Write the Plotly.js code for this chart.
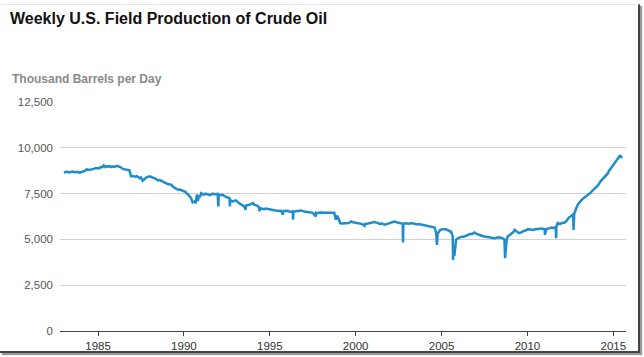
<!DOCTYPE html>
<html>
<head>
<meta charset="utf-8">
<script src="https://cdn.plot.ly/plotly-3.0.1.min.js"></script>
<style>
  html, body { margin: 0; padding: 0; background: #fff; }
  #wrap { position: relative; width: 644px; height: 357px; overflow: hidden; }
  #chart { position: absolute; left: 0; top: 0; width: 644px; height: 357px; }
  #frame { position: absolute; left: 0; top: 4px; width: 638px; height: 346px;
           border-top: 1px solid #e6e6e6; border-right: 2px solid #444; border-bottom: 2px solid #444;
           box-shadow: 2px 2px 1px #999; pointer-events: none; }
</style>
</head>
<body>
<div id="wrap"><div id="chart"></div><div id="frame"></div></div>
<script>
const chartTitle = "Weekly U.S. Field Production of Crude Oil";
const unitLabel = "Thousand Barrels per Day";

const weeks = [
  "1983-01-07","1983-03-04","1983-05-06","1983-07-01","1983-09-02","1983-10-07","1983-12-02","1984-01-06","1984-03-02",
  "1984-04-06","1984-05-04","1984-06-29","1984-08-03","1984-09-28","1984-11-02","1985-01-04","1985-02-01","1985-03-01",
  "1985-04-05","1985-05-03","1985-06-07","1985-07-05","1985-08-02","1985-09-06","1985-10-04","1985-11-01","1985-12-06",
  "1986-02-07","1986-03-07","1986-04-04","1986-05-02","1986-06-06","1986-07-04","1986-08-01","1986-09-05","1986-10-31",
  "1986-12-05","1987-01-09","1987-03-06","1987-04-03","1987-06-05","1987-07-03","1987-08-07","1987-09-04","1987-10-02",
  "1987-11-06","1988-01-08","1988-02-05","1988-04-01","1988-05-06","1988-07-01","1988-08-05","1988-10-07","1988-12-02",
  "1989-02-03","1989-04-07","1989-05-05","1989-07-07","1989-09-01","1989-10-06","1989-12-01","1990-02-02","1990-03-02",
  "1990-04-06","1990-06-01","1990-07-06","1990-08-10","1990-09-07","1990-10-05","1990-10-26","1990-11-16","1990-12-07",
  "1991-01-04","1991-02-01","1991-03-01","1991-04-05","1991-06-07","1991-07-05","1991-09-06","1991-10-04","1991-12-20",
  "1992-01-03","1992-01-10","1992-02-07","1992-04-03","1992-05-01","1992-07-03","1992-08-28","1992-09-04","1992-09-11",
  "1992-10-02","1992-11-06","1993-01-08","1993-02-05","1993-04-02","1993-05-07","1993-07-02","1993-08-06","1993-08-13",
  "1993-10-01","1993-11-05","1994-01-07","1994-02-04","1994-04-01","1994-05-20","1994-05-27","1994-06-03","1994-07-01",
  "1994-09-02","1994-10-07","1995-01-06","1995-02-03","1995-04-07","1995-05-05","1995-08-04","1995-09-01","1995-10-06",
  "1995-10-13","1995-12-01","1996-02-02","1996-03-01","1996-05-03","1996-05-10","1996-05-17","1996-07-05","1996-09-06",
  "1996-11-01","1997-01-03","1997-03-07","1997-04-04","1997-06-06","1997-07-04","1997-09-05","1997-09-12","1997-10-03",
  "1997-11-07","1998-01-02","1998-03-06","1998-06-05","1998-08-07","1998-09-04","1998-09-25","1998-10-02","1998-11-06",
  "1998-12-04","1999-01-08","1999-02-05","1999-03-05","1999-05-07","1999-06-04","1999-08-06","1999-10-01","1999-11-05",
  "2000-01-07","2000-03-03","2000-05-05","2000-07-07","2000-07-14","2000-09-01","2000-11-03","2001-02-02","2001-04-06",
  "2001-06-01","2001-07-06","2001-09-07","2001-11-02","2002-01-04","2002-02-01","2002-04-05","2002-06-07","2002-08-02",
  "2002-09-27","2002-10-04","2002-10-11","2002-12-06","2003-02-07","2003-04-04","2003-06-06","2003-08-01","2003-09-05",
  "2003-11-07","2004-01-02","2004-03-05","2004-05-07","2004-06-04","2004-08-06","2004-09-10","2004-09-24","2004-10-08",
  "2004-11-05","2004-12-03","2005-02-04","2005-04-01","2005-06-03","2005-07-01","2005-07-15","2005-08-26","2005-09-02",
  "2005-09-16","2005-09-30","2005-10-21","2005-11-04","2005-12-02","2006-01-06","2006-03-03","2006-05-05","2006-07-07",
  "2006-09-01","2006-10-06","2006-12-01","2007-01-05","2007-03-02","2007-05-04","2007-07-06","2007-09-07","2007-11-02",
  "2008-01-04","2008-02-01","2008-04-04","2008-05-02","2008-07-04","2008-08-29","2008-09-12","2008-09-26","2008-10-17",
  "2008-11-07","2008-12-05","2009-01-02","2009-03-06","2009-04-03","2009-06-05","2009-07-03","2009-09-04","2009-10-02",
  "2009-12-04","2010-01-08","2010-03-05","2010-05-07","2010-07-02","2010-08-06","2010-10-01","2010-12-31","2011-01-07",
  "2011-02-04","2011-04-01","2011-06-03","2011-07-08","2011-08-26","2011-09-02","2011-09-09","2011-10-07","2011-12-02",
  "2012-01-06","2012-03-02","2012-04-06","2012-06-01","2012-07-06","2012-08-24","2012-08-31","2012-09-07","2012-09-21",
  "2012-10-05","2012-11-02","2012-12-07","2013-01-04","2013-03-01","2013-05-03","2013-07-05","2013-08-02","2013-09-06",
  "2013-11-01","2013-12-06","2014-01-03","2014-02-07","2014-04-04","2014-06-06","2014-08-01","2014-09-05","2014-10-03",
  "2014-12-05","2015-01-09","2015-03-06","2015-04-03","2015-05-29","2015-06-05","2015-07-10"
];
const production = [
  8650,8690,8660,8700,8670,8690,8640,8660,8720,
  8760,8820,8790,8800,8850,8880,8900,8880,8960,
  8940,9040,8950,9000,8970,9000,8950,8990,8960,
  9020,8990,8990,8930,8850,8830,8800,8780,8770,
  8440,8460,8420,8450,8350,8380,8200,8260,8300,
  8400,8440,8400,8350,8320,8220,8240,8150,8100,
  8010,7990,7900,7780,7710,7720,7660,7600,7500,
  7440,7260,7020,7060,7020,7450,7100,7400,7300,
  7530,7470,7440,7500,7450,7420,7500,7460,7480,
  6800,7450,7430,7440,7380,7300,7250,6800,7100,
  7120,7070,7130,7050,6950,6900,6800,6620,6850,
  6880,6900,6980,6900,6850,6750,6530,6710,6690,
  6650,6680,6620,6640,6600,6580,6550,6560,6350,
  6530,6560,6550,6500,6530,6070,6500,6540,6560,
  6580,6520,6500,6480,6470,6450,6250,6450,6440,
  6460,6470,6450,6440,6430,6450,6460,6450,6070,
  6300,6100,5890,5870,5850,5880,5890,5980,5940,
  5900,5880,5850,5740,5850,5860,5900,5950,5900,
  5850,5870,5800,5850,5900,5940,5980,5920,5890,
  5850,4830,5850,5880,5860,5890,5850,5820,5840,
  5800,5780,5750,5720,5700,5650,5340,4700,5300,
  5450,5520,5560,5550,5480,5420,5480,5160,3880,
  4500,4100,4800,4980,5050,5100,5150,5160,5220,
  5300,5280,5380,5320,5250,5200,5160,5120,5100,
  5080,5070,5100,5120,5080,5000,3980,4600,5000,
  5160,5220,5300,5400,5520,5420,5340,5400,5450,
  5500,5560,5540,5520,5580,5560,5600,5560,5250,
  5550,5600,5650,5620,5670,5070,5700,5890,5850,
  5900,5920,6000,6200,6250,6350,6300,5520,6400,
  6530,6700,6900,7000,7170,7300,7440,7450,7550,
  7710,7800,7850,7950,8170,8350,8530,8600,8750,
  8990,9100,9350,9400,9600,9530,9450
];
const yTicks = [0, 2500, 5000, 7500, 10000, 12500];
const yTickLabels = ["0", "2,500", "5,000", "7,500", "10,000", "12,500"];
const xTicks = ["1985-01-01","1990-01-01","1995-01-01","2000-01-01","2005-01-01","2010-01-01","2015-01-01"];
const xTickLabels = ["1985","1990","1995","2000","2005","2010","2015"];

const trace = {
  x: weeks, y: production, type: "scatter", mode: "lines",
  line: { color: "#1f8dcb", width: 2.5 }, hoverinfo: "skip"
};

const layout = {
  width: 644, height: 357,
  margin: { l: 60, r: 18, t: 102, b: 26 },
  paper_bgcolor: "#ffffff", plot_bgcolor: "#ffffff",
  showlegend: false,
  font: { family: "Liberation Sans, Arial, sans-serif", color: "#444" },
  title: {
    text: "<b>" + chartTitle + "</b>",
    font: { family: "Liberation Sans, Arial, sans-serif", size: 16, color: "#111" },
    xref: "container", yref: "container", x: 10/644, xanchor: "left", y: 1 - 18/357, yanchor: "middle"
  },
  annotations: [{
    text: "<b>" + unitLabel + "</b>", xref: "paper", yref: "paper",
    x: -50/566, y: 1 + (102 - 79)/229, xanchor: "left", yanchor: "middle",
    showarrow: false, font: { family: "Liberation Sans, Arial, sans-serif", size: 12, color: "#8a8a8a" }
  }],
  xaxis: {
    type: "date", range: ["1982-10-15", "2015-09-27"],
    tickvals: xTicks, ticktext: xTickLabels,
    showgrid: false, zeroline: false,
    showline: true, linecolor: "#444", linewidth: 1,
    ticks: "outside", ticklen: 4, tickcolor: "#444", tickwidth: 1,
    tickfont: { size: 11.5, color: "#333" }, fixedrange: true
  },
  yaxis: {
    range: [0, 12500], tickvals: yTicks, ticktext: yTickLabels,
    showgrid: true, gridcolor: "#d0d0d0", gridwidth: 1,
    zeroline: false, showline: false, ticks: "",
    ticklabelstandoff: 6,
    tickfont: { size: 11.5, color: "#555" }, fixedrange: true
  }
};

Plotly.newPlot("chart", [trace], layout, { displayModeBar: false, staticPlot: true });
</script>
</body>
</html>
